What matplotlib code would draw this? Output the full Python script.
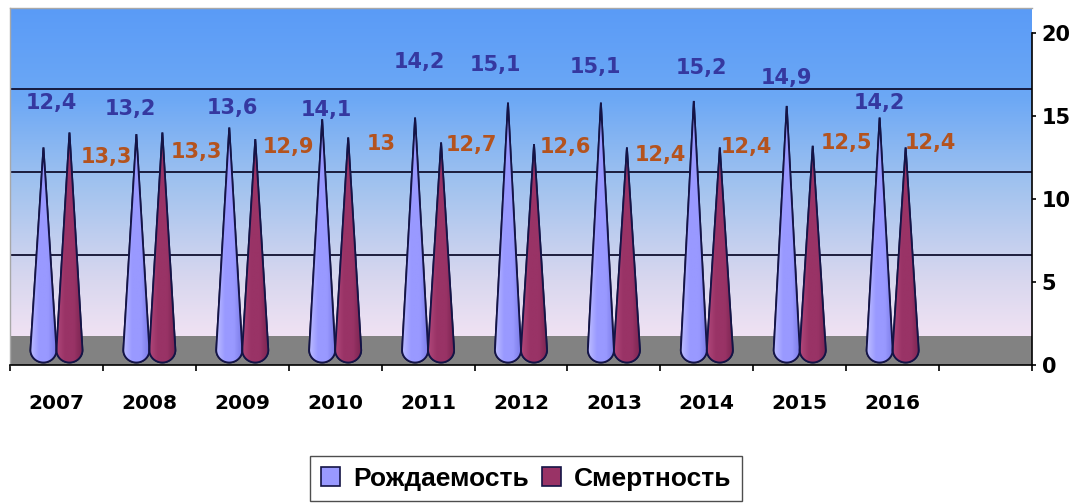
import numpy as np
import matplotlib
matplotlib.use('Agg')
import matplotlib.pyplot as plt
from matplotlib.patches import Polygon, Patch, Rectangle
from matplotlib.colors import LinearSegmentedColormap

# data
years = ['2007', '2008', '2009', '2010', '2011', '2012', '2013', '2014', '2015', '2016']
birth = [12.4, 13.2, 13.6, 14.1, 14.2, 15.1, 15.1, 15.2, 14.9, 14.2]
death = [13.3, 13.3, 12.9, 13.0, 12.7, 12.6, 12.4, 12.4, 12.5, 12.4]
birth_txt = ['12,4', '13,2', '13,6', '14,1', '14,2', '15,1', '15,1', '15,2', '14,9', '14,2']
death_txt = ['13,3', '13,3', '12,9', '13', '12,7', '12,6', '12,4', '12,4', '12,5', '12,4']
series_names = ['Рождаемость', 'Смертность']

# label placement (offsets from category centre / value), as Excel put them
birth_lbl_dx = [-0.05, -0.20, -0.11, -0.10, -0.09, -0.27, -0.20, -0.06, -0.14, -0.14]
birth_lbl_dy = [3.38, 2.20, 1.88, 1.23, 4.05, 2.97, 2.85, 2.70, 2.39, 1.58]
death_lbl_dx = [0.54, 0.51, 0.50, 0.49, 0.47, 0.48, 0.50, 0.43, 0.50, 0.41]
death_lbl_dy = [-0.77, -0.47, 0.23, 0.31, 0.55, 0.53, 0.25, 0.73, 0.87, 0.97]

# plot properties
blue_fill = '#9999FF'
red_fill = '#993366'
edge = '#141446'
blue_txt = '#3538A0'
red_txt = '#B4531E'
depth = 1.6         # back wall offset of gridlines (3D look)
floor_h = 1.75
tip_extra = 0.7
half_w = 0.14
cone_off = 0.14
fontsize_lbl = 15
fontsize_tick = 14.5

plt.rcParams['font.family'] = 'DejaVu Sans'

fig = plt.figure(figsize=(10.78, 5.04), dpi=100)
ax = fig.add_axes([10 / 1078, 1 - 365 / 504, 1022 / 1078, 357 / 504])
ax.set_xlim(-0.5, 10.5)
ax.set_ylim(0, 21.5)

# background gradient
bg = LinearSegmentedColormap.from_list('bg', [
    (0.0, '#FDE8F6'), (0.25, '#D6D6EE'), (0.5, '#A2C3EF'),
    (0.75, '#6CA8F5'), (1.0, '#5A9BF7')])
grad = np.linspace(0, 1, 256).reshape(-1, 1)
ax.imshow(grad, cmap=bg, origin='lower', extent=[-0.5, 10.5, 0, 21.5],
          aspect='auto', zorder=0)

# floor and back-wall gridlines
ax.add_patch(Rectangle((-0.5, 0), 11, floor_h, facecolor='#828282',
                       edgecolor='none', zorder=1))
for t in [5, 10, 15]:
    ax.axhline(t + depth, color='#101030', linewidth=1.3, zorder=1)


def cone(xc, top, fill, light, dark):
    yb = 0.9
    rb = 0.75
    a = np.linspace(np.pi, 2 * np.pi, 40)
    xs = list(xc + half_w * np.cos(a)) + [xc]
    ys = list(yb + rb * np.sin(a)) + [top]
    poly = Polygon(np.column_stack([xs, ys]), closed=True, facecolor=fill,
                   edgecolor=edge, linewidth=1.3, zorder=3)
    ax.add_patch(poly)
    cm = LinearSegmentedColormap.from_list('c', [light, fill, fill, dark])
    img = ax.imshow(np.linspace(0, 1, 64).reshape(1, -1), cmap=cm,
                    extent=[xc - half_w, xc + half_w, 0, top],
                    aspect='auto', zorder=3)
    img.set_clip_path(poly)
    ax.add_patch(Polygon(np.column_stack([xs, ys]), closed=True,
                         facecolor='none', edgecolor=edge, linewidth=1.3,
                         zorder=4))


x = np.arange(len(years))
for i in range(len(years)):
    cone(x[i] - cone_off, birth[i] + tip_extra, blue_fill, '#BDBDFF', '#7A7AE6')
    cone(x[i] + cone_off, death[i] + tip_extra, red_fill, '#B0477A', '#7A2450')
    ax.text(x[i] + birth_lbl_dx[i], birth[i] + birth_lbl_dy[i], birth_txt[i],
            color=blue_txt, fontsize=fontsize_lbl, fontweight='bold',
            ha='center', va='center', zorder=5)
    ax.text(x[i] + death_lbl_dx[i], death[i] + death_lbl_dy[i], death_txt[i],
            color=red_txt, fontsize=fontsize_lbl, fontweight='bold',
            ha='center', va='center', zorder=5)

# axes
ax.yaxis.tick_right()
ax.set_yticks([0, 5, 10, 15, 20])
ax.tick_params(axis='y', direction='out', length=3, width=1.2, pad=4,
               labelsize=fontsize_tick + 0.5)
for lab in ax.get_yticklabels():
    lab.set_fontweight('bold')

ax.set_xticks(x)
ax.set_xticklabels(years, fontsize=fontsize_tick, fontweight='bold')
ax.set_xticks(np.arange(-0.5, 11, 1), minor=True)
ax.tick_params(axis='x', which='major', length=0, pad=21)
ax.tick_params(axis='x', which='minor', direction='out', length=4, width=1.2)

for s in ['left', 'top']:
    ax.spines[s].set_color('#A8A8A8')
    ax.spines[s].set_linewidth(1)
ax.spines['right'].set_bounds(0, 20)
ax.spines['right'].set_linewidth(1.2)
ax.spines['bottom'].set_linewidth(1.2)

# legend
handles = [Patch(facecolor=blue_fill, edgecolor=edge, linewidth=1.2),
           Patch(facecolor=red_fill, edgecolor=edge, linewidth=1.2)]
fig.legend(handles, series_names, loc='center', bbox_to_anchor=(0.488, 0.05),
           ncol=2, frameon=True, fancybox=False, edgecolor='#222222',
           prop={'family': ['Liberation Sans', 'DejaVu Sans'], 'weight': 'bold', 'size': 19},
           handlelength=0.72, handleheight=0.72, handletextpad=0.5,
           columnspacing=0.5, borderpad=0.4, borderaxespad=0)

fig.savefig('out.png', dpi=100)
